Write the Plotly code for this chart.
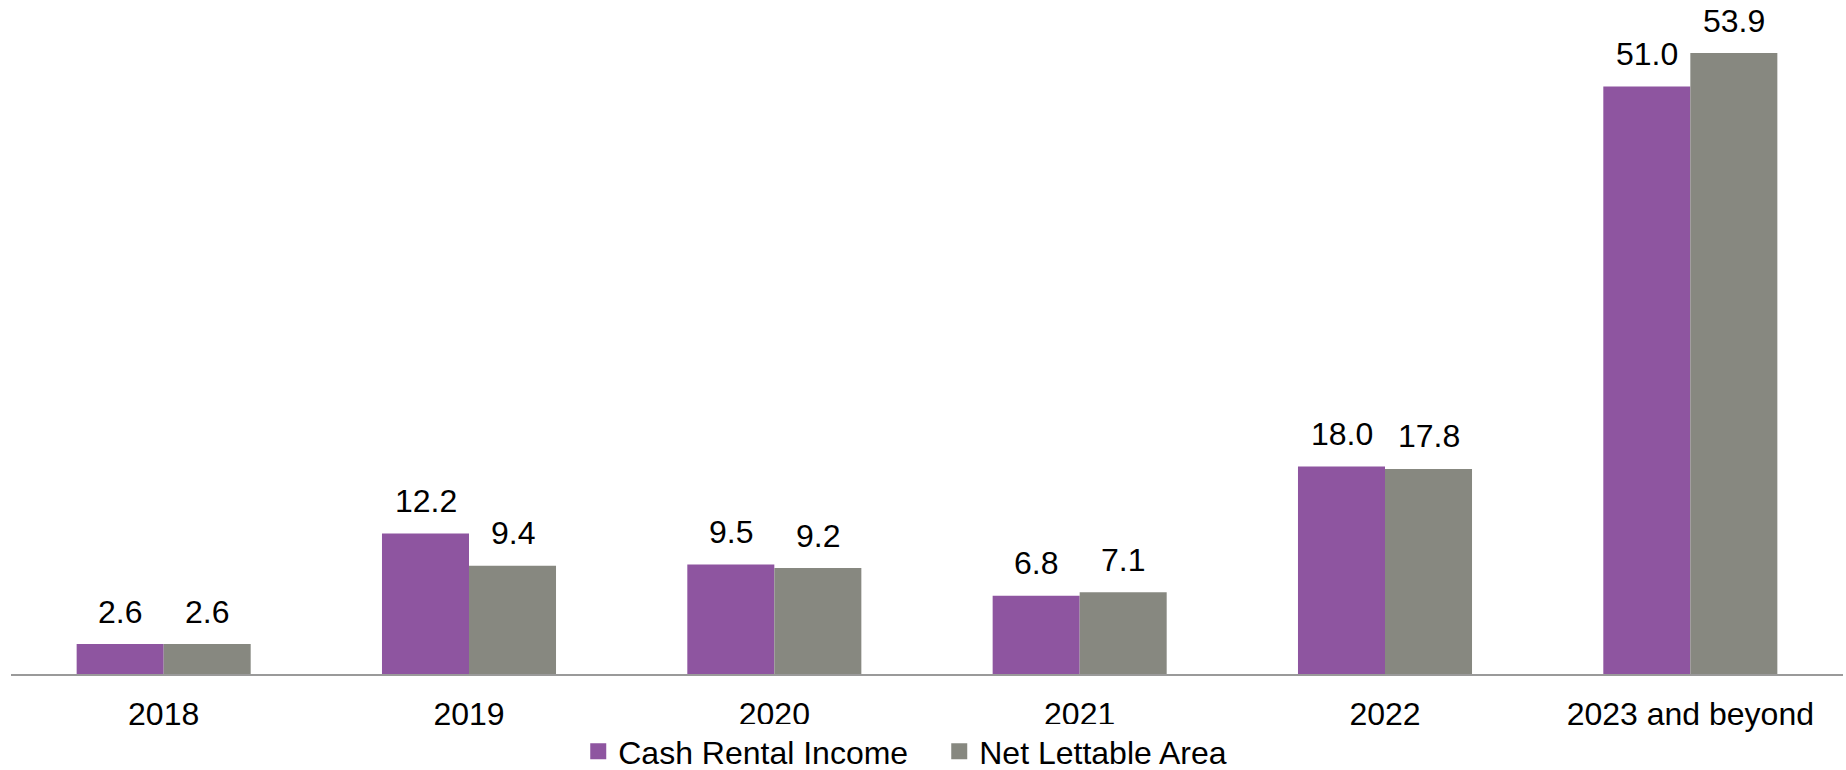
import plotly.graph_objects as go

categories = ["2018", "2019", "2020", "2021", "2022", "2023 and beyond"]
cash_rental_income = [2.6, 12.2, 9.5, 6.8, 18.0, 51.0]
net_lettable_area = [2.6, 9.4, 9.2, 7.1, 17.8, 53.9]
series_names = ["Cash Rental Income", "Net Lettable Area"]

PURPLE = "#8E55A0"
GRAY = "#878880"
FONT = "Liberation Sans, Arial, sans-serif"
FS = 32

fig = go.Figure()
for vals, name, col in ((cash_rental_income, series_names[0], PURPLE),
                        (net_lettable_area, series_names[1], GRAY)):
    fig.add_trace(go.Bar(x=categories, y=vals, name=name, showlegend=False,
                         legendgroup=name, marker=dict(color=col, line=dict(width=0))))
# legend entries with larger square swatches
for name, col in ((series_names[0], PURPLE), (series_names[1], GRAY)):
    fig.add_trace(go.Scatter(x=[None], y=[None], mode="markers", name=name,
                             legendgroup=name, showlegend=True,
                             marker=dict(symbol="square", size=17, color=col)))

annotations = []
for vals, shift in ((cash_rental_income, -43.5), (net_lettable_area, 43.5)):
    for i, v in enumerate(vals):
        annotations.append(dict(x=i, y=v, xref="x", yref="y", text=f"{v:.1f}", showarrow=False,
                                xanchor="center", yanchor="bottom",
                                xshift=shift, yshift=12.5,
                                font=dict(family=FONT, size=FS, color="#000000")))

fig.update_layout(
    width=1846, height=770,
    margin=dict(l=11, r=3, t=0, b=96),
    paper_bgcolor="white", plot_bgcolor="white",
    barmode="group", bargap=0.43, bargroupgap=0,
    font=dict(family=FONT, size=FS, color="#000000"),
    showlegend=True,
    legend=dict(orientation="h", xref="container", yref="container",
                x=0.5088, xanchor="center", y=0.024, yanchor="middle",
                font=dict(family=FONT, size=FS), itemwidth=30, entrywidth=316,
                traceorder="normal", itemclick=False, itemdoubleclick=False),
    annotations=annotations,
    xaxis=dict(type="category", range=[-0.5, len(categories) - 0.5],
               showline=True, linecolor="#9A9A9A", linewidth=2, ticks="",
               showgrid=False, ticklabelstandoff=11, automargin=False,
               tickfont=dict(family=FONT, size=FS, color="#000000")),
    yaxis=dict(range=[0, 58.5], visible=False, showgrid=False, zeroline=False),
)

fig.write_html("out.html")
